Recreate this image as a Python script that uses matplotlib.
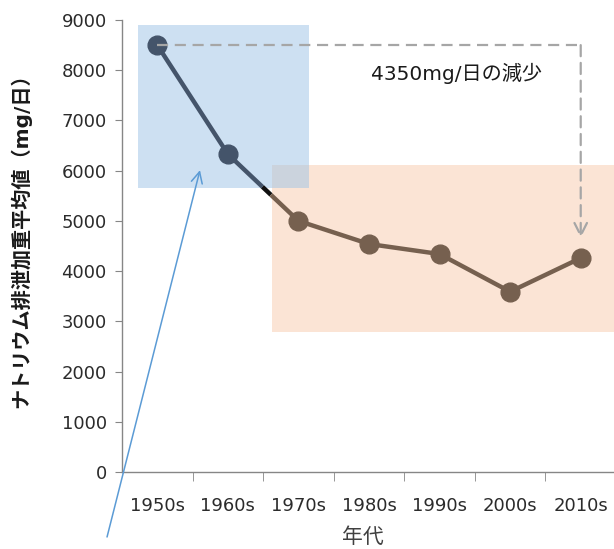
import numpy as np
import matplotlib
matplotlib.use("Agg")
import matplotlib.pyplot as plt
from matplotlib.patches import Rectangle

plt.rcParams['font.family'] = ['DejaVu Sans', 'Noto Sans CJK JP']

# ---- data ----
decades = ["1950s", "1960s", "1970s", "1980s", "1990s", "2000s", "2010s"]
sodium = [8500, 6330, 5000, 4540, 4340, 3590, 4260]
y_ticks = [0, 1000, 2000, 3000, 4000, 5000, 6000, 7000, 8000, 9000]
y_label = "ナトリウム排泄加重平均値（mg/日）"
x_label = "年代"
note = "4350mg/日の減少"

DARK = "#44546A"
BROWN = "#76604F"
TXT = "#2b2b2b"
AX = "#868686"

fig = plt.figure(figsize=(6.14, 5.49), dpi=100)
ax = fig.add_axes([122/614, 1-472/549, 494/614, (472-20)/549])
x = np.arange(len(decades))
ax.set_xlim(-0.5, len(decades)-0.5)
ax.set_ylim(0, 9000)

# highlight boxes
ax.add_patch(Rectangle((1.62, 2790), 6.5-1.62, 6110-2790, facecolor="#F8CBAD",
                       alpha=0.5, edgecolor="none", zorder=1, clip_on=False))
ax.add_patch(Rectangle((-0.273, 5660), 2.149+0.273, 8900-5660, facecolor="#9DC3E6",
                       alpha=0.5, edgecolor="none", zorder=2))

# line: early segment dark, transition, later brown
xs = np.array(x, dtype=float)
ys = np.array(sodium, dtype=float)
def interp(t):
    return xs[1] + t*(xs[2]-xs[1]), ys[1] + t*(ys[2]-ys[1])
p49 = interp(0.49)
p61 = interp(0.61)
ax.plot([xs[0], xs[1], p49[0]], [ys[0], ys[1], p49[1]], color=DARK, lw=3.2,
        solid_capstyle='butt', zorder=3)
ax.plot([p49[0], p61[0]], [p49[1], p61[1]], color="#111111", lw=3.2,
        solid_capstyle='butt', zorder=3)
ax.plot([p61[0]] + list(xs[2:]), [p61[1]] + list(ys[2:]), color=BROWN, lw=3.2,
        solid_capstyle='butt', zorder=3)
ax.plot(xs[:2], ys[:2], 'o', color=DARK, ms=13.5, zorder=4)
ax.plot(xs[2:], ys[2:], 'o', color=BROWN, ms=13.5, zorder=4)

# dashed reduction indicator
ax.plot([xs[0], xs[-1]], [ys[0], ys[0]], color="#A6A6A6", lw=1.6,
        dashes=(5, 3), zorder=5)
ax.annotate("", xy=(xs[-1], ys[-1] + 400), xytext=(xs[-1], ys[0]),
            arrowprops=dict(arrowstyle="->,head_length=0.9,head_width=0.45",
                            color="#A6A6A6", lw=1.6, linestyle=(0, (5, 3)),
                            shrinkA=0, shrinkB=0), zorder=5)
ax.text(4.245, 7940, note, ha='center', va='center', fontsize=14.5, color="#1a1a1a",
        zorder=6)

# blue pointer arrow
ax.annotate("", xy=(0.605, 6010), xytext=(-0.712, -1294),
            arrowprops=dict(arrowstyle="->,head_length=0.8,head_width=0.4",
                            color="#5B9BD5", lw=1.1, shrinkA=0, shrinkB=0),
            annotation_clip=False, zorder=6)

# axes styling
for s in ['top', 'right']:
    ax.spines[s].set_visible(False)
for s in ['left', 'bottom']:
    ax.spines[s].set_color(AX)
    ax.spines[s].set_linewidth(1.0)
ax.set_yticks(y_ticks)
ax.set_yticklabels([str(v) for v in y_ticks])
ax.tick_params(axis='y', direction='out', length=5, color=AX, labelsize=13,
               labelcolor=TXT, pad=6)
ax.set_xticks(x)
ax.set_xticklabels(decades)
ax.tick_params(axis='x', which='major', length=0, labelsize=13, labelcolor=TXT, pad=18)
ax.set_xticks(np.arange(0.5, len(decades)-0.5, 1), minor=True)
ax.tick_params(axis='x', which='minor', direction='out', length=6.5, color=AX)

fig.text(363/614, 1-537/549, x_label, ha='center', va='center', fontsize=15,
         color="#404040")
fig.text(21/614, 1-236/549, y_label, rotation=90, ha='center', va='center',
         fontsize=14.5, fontweight='bold', color="#1a1a1a")

fig.savefig("out.png", dpi=100)
